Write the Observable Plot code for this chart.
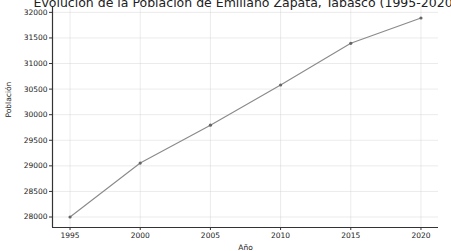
<!DOCTYPE html>
<html><head><meta charset="utf-8">
<script src="https://cdn.jsdelivr.net/npm/d3@7"></script>
<script src="https://cdn.jsdelivr.net/npm/@observablehq/plot@0.6"></script>
<style>
html,body{margin:0;padding:0;background:#fff;overflow:hidden;}
</style></head>
<body><div id="chart"></div>
<script>
const years = [1995, 2000, 2005, 2010, 2015, 2020];
const population = [28000, 29055, 29795, 30580, 31395, 31890];
const xTicks = [1995, 2000, 2005, 2010, 2015, 2020];
const yTicks = [28000, 28500, 29000, 29500, 30000, 30500, 31000, 31500, 32000];
const title = "Evolución de la Población de Emiliano Zapata, Tabasco (1995-2020)";

const data = years.map((y, i) => ({year: y, pop: population[i]}));
const xDomain = [1993.75, 2021.25];
const yDomain = [27795, 32095];

const chart = Plot.plot({
  width: 451, height: 251,
  marginLeft: 52, marginRight: 13, marginTop: 7, marginBottom: 24,
  style: {fontFamily: "DejaVu Sans", fontSize: "7.5px", color: "#222", background: "#fff", overflow: "visible"},
  x: {domain: xDomain, ticks: xTicks, tickFormat: "d"},
  y: {domain: yDomain, ticks: yTicks, tickFormat: "d"},
  marks: [
    Plot.gridX(xTicks, {stroke: "#ccc", strokeOpacity: 0.4}),
    Plot.gridY(yTicks, {stroke: "#ccc", strokeOpacity: 0.4}),
    Plot.axisX({ticks: xTicks, tickFormat: "d", tickSize: 3, tickPadding: 2, label: null, stroke: "#333"}),
    Plot.axisY({ticks: yTicks, tickFormat: "d", tickSize: 3, tickPadding: 2, label: null, stroke: "#333"}),
    Plot.ruleX([xDomain[0]], {stroke: "#333", strokeWidth: 1.2}),
    Plot.ruleY([yDomain[0]], {stroke: "#333", strokeWidth: 1.2}),
    Plot.line(data, {x: "year", y: "pop", stroke: "#8a8a8a", strokeWidth: 1.1}),
    Plot.dot(data, {x: "year", y: "pop", r: 1.6, fill: "#666", stroke: "none"}),
    Plot.text([title], {frameAnchor: "top", dy: -1, fontSize: 12.5, fill: "#222", lineAnchor: "bottom"}),
    Plot.text(["Año"], {frameAnchor: "bottom", dy: 22, fontSize: 7.5, fill: "#222"}),
    Plot.text(["Población"], {frameAnchor: "left", dx: -44, rotate: -90, fontSize: 7.5, fill: "#222"})
  ]
});
document.getElementById("chart").appendChild(chart);
</script>
</body></html>
